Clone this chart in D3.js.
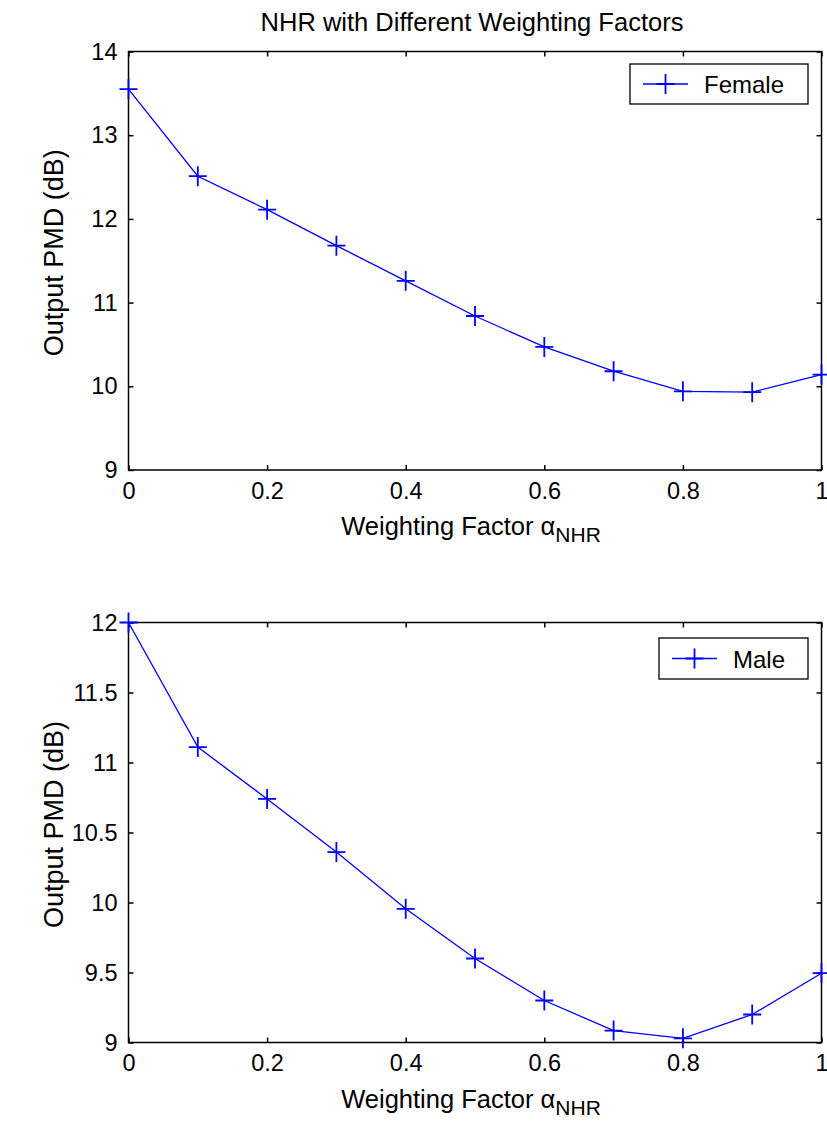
<!DOCTYPE html>
<html lang="en">
<head>
<meta charset="utf-8">
<script src="https://d3js.org/d3.v7.min.js"></script>
<style>
  body { margin: 0; background: #fff; }
  text { font-family: Arial, "Liberation Sans", Helvetica, sans-serif; fill: #000; }
</style>
</head>
<body>
<script>
// data
var alphas = [0, 0.1, 0.2, 0.3, 0.4, 0.5, 0.6, 0.7, 0.8, 0.9, 1.0];
var female = [13.55, 12.51, 12.11, 11.68, 11.26, 10.84, 10.47, 10.18, 9.94, 9.93, 10.14];
var male = [12.0, 11.11, 10.74, 10.36, 9.955, 9.60, 9.30, 9.085, 9.03, 9.20, 9.495];
var xTicks = [0, 0.2, 0.4, 0.6, 0.8, 1];
var femaleTicks = [9, 10, 11, 12, 13, 14];
var maleTicks = [9, 9.5, 10, 10.5, 11, 11.5, 12];

var W = 827, H = 1126;
var svg = d3.select("body").append("svg")
  .attr("width", W)
  .attr("height", H);

// title
svg.append("text")
  .attr("x", 472)
  .attr("y", 31)
  .attr("text-anchor", "middle")
  .style("font-size", "25.5px")
  .text("NHR with Different Weighting Factors");

var panels = [
  { values: female, ticks: femaleTicks, domain: [9, 14], top: 51.5, bottom: 470, name: "Female", legend: [630, 64, 178, 40] },
  { values: male, ticks: maleTicks, domain: [9, 12], top: 622.5, bottom: 1042.5, name: "Male", legend: [659, 638, 149, 41] }
];

var left = 128.5, right = 821.5;

panels.forEach(function (p) {
  var x = d3.scaleLinear().domain([0, 1]).range([left, right]);
  var y = d3.scaleLinear().domain(p.domain).range([p.bottom, p.top]);
  var g = svg.append("g");

  // box
  g.append("rect")
    .attr("x", left)
    .attr("y", p.top)
    .attr("width", right - left)
    .attr("height", p.bottom - p.top)
    .attr("fill", "none")
    .attr("stroke", "#000")
    .attr("stroke-width", 1.5);

  var fmt = function (d) { return d3.format("")(d); };

  var ax = g.append("g").attr("transform", "translate(0," + p.bottom + ")")
    .call(d3.axisBottom(x).tickValues(xTicks).tickFormat(fmt).tickSizeInner(-5).tickSizeOuter(0).tickPadding(12));
  var axT = g.append("g").attr("transform", "translate(0," + p.top + ")")
    .call(d3.axisTop(x).tickValues(xTicks).tickFormat("").tickSizeInner(-5).tickSizeOuter(0));
  var ay = g.append("g").attr("transform", "translate(" + left + ",0)")
    .call(d3.axisLeft(y).tickValues(p.ticks).tickFormat(fmt).tickSizeInner(-5).tickSizeOuter(0).tickPadding(11));
  var ayR = g.append("g").attr("transform", "translate(" + right + ",0)")
    .call(d3.axisRight(y).tickValues(p.ticks).tickFormat("").tickSizeInner(-5).tickSizeOuter(0));

  [ax, axT, ay, ayR].forEach(function (a) {
    a.select(".domain").remove();
    a.selectAll(".tick line").attr("stroke", "#000").attr("stroke-width", 1.5);
    a.selectAll(".tick text").style("font-size", "23.5px").attr("fill", "#000")
      .style("font-family", "Arial, 'Liberation Sans', sans-serif");
  });

  // x label
  var xl = g.append("text")
    .attr("x", 471)
    .attr("y", p.bottom + 65)
    .attr("text-anchor", "middle")
    .style("font-size", "25.5px");
  xl.append("tspan").text("Weighting Factor \u03b1");
  xl.append("tspan").attr("dy", 7).style("font-size", "21px").text("NHR");

  // y label
  g.append("text")
    .attr("transform", "translate(63," + ((p.top + p.bottom) / 2 - 8) + ") rotate(-90)")
    .attr("text-anchor", "middle")
    .style("font-size", "27px")
    .text("Output PMD (dB)");

  // line
  var line = d3.line()
    .x(function (d, i) { return x(alphas[i]); })
    .y(function (d) { return y(d); });

  g.append("path")
    .datum(p.values)
    .attr("d", line)
    .attr("fill", "none")
    .attr("stroke", "#0000ff")
    .attr("stroke-width", 1.3);

  var plus = function (sel, cx, cy) {
    sel.append("path")
      .attr("d", "M" + (cx - 9) + "," + cy + "H" + (cx + 9) + "M" + cx + "," + (cy - 10) + "V" + (cy + 10))
      .attr("stroke", "#0000ff")
      .attr("stroke-width", 1.8)
      .attr("fill", "none");
  };

  p.values.forEach(function (v, i) {
    plus(g, x(alphas[i]), y(v));
  });

  // legend
  var L = p.legend;
  g.append("rect")
    .attr("x", L[0])
    .attr("y", L[1])
    .attr("width", L[2])
    .attr("height", L[3])
    .attr("fill", "#fff")
    .attr("stroke", "#000")
    .attr("stroke-width", 1.3);
  var ly = L[1] + L[3] / 2;
  var lx0 = L[0] + 13;
  g.append("line")
    .attr("x1", lx0).attr("x2", lx0 + 45)
    .attr("y1", ly).attr("y2", ly)
    .attr("stroke", "#0000ff")
    .attr("stroke-width", 1.3);
  plus(g, lx0 + 22.5, ly);
  g.append("text")
    .attr("x", lx0 + 61)
    .attr("y", ly + 9)
    .style("font-size", "24px")
    .text(p.name);
});
</script>
</body>
</html>
